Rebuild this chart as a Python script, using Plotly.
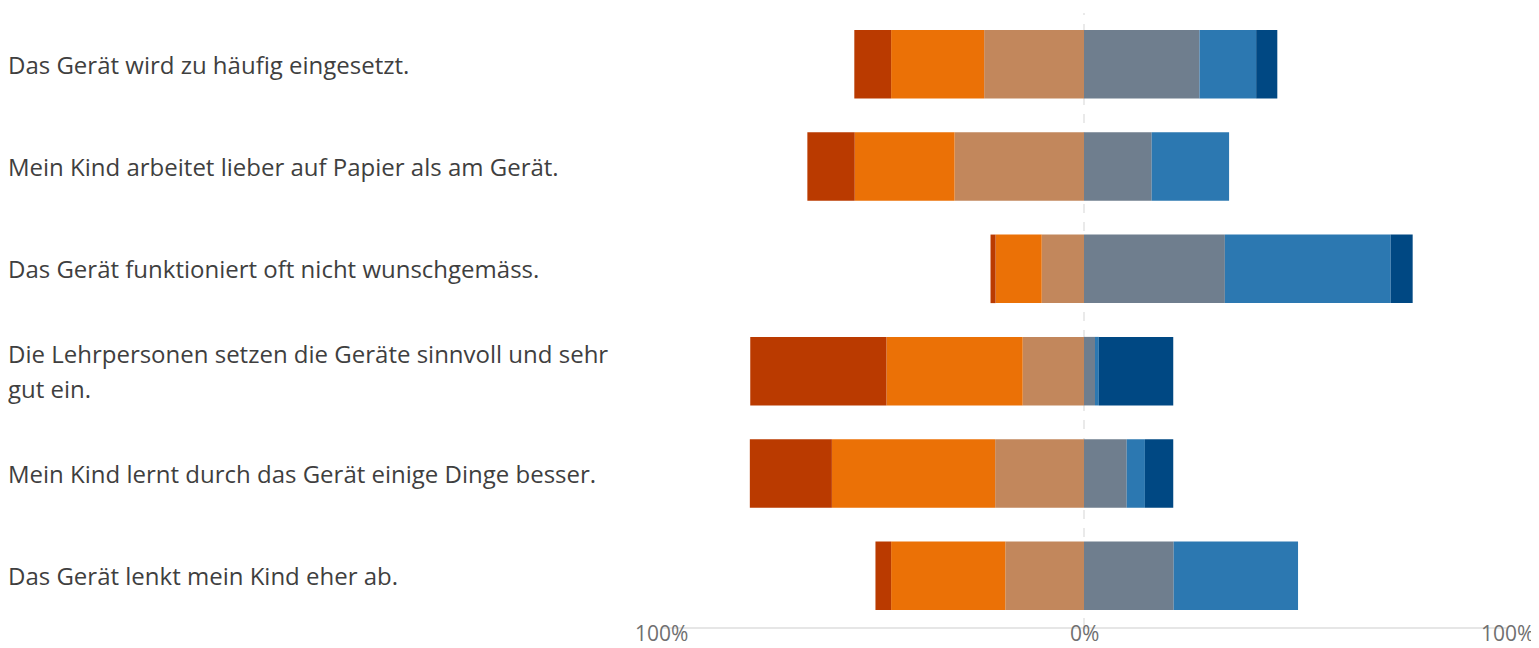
import plotly.graph_objects as go

labels = [
    "Das Gerät wird zu häufig eingesetzt.",
    "Mein Kind arbeitet lieber auf Papier als am Gerät.",
    "Das Gerät funktioniert oft nicht wunschgemäss.",
    "Die Lehrpersonen setzen die Geräte sinnvoll und sehr\ngut ein.",
    "Mein Kind lernt durch das Gerät einige Dinge besser.",
    "Das Gerät lenkt mein Kind eher ab.",
]

series_names = [
    "trifft überhaupt nicht zu",
    "trifft nicht zu",
    "trifft eher nicht zu",
    "trifft eher zu",
    "trifft zu",
    "trifft voll und ganz zu",
]

strongly_disagree = [8.7, 11.2, 1.2, 32.2, 19.4, 3.7]
disagree = [22.0, 23.6, 10.9, 32.2, 38.6, 27.0]
rather_disagree = [23.6, 30.6, 10.0, 14.5, 21.0, 18.6]
rather_agree = [27.3, 16.0, 33.3, 2.6, 10.1, 21.2]
agree = [13.4, 18.3, 39.2, 0.9, 4.3, 29.4]
strongly_agree = [5.0, 0.0, 5.2, 17.6, 6.7, 0.0]

tick_vals = [-100, 0, 100]
tick_text = ["100%", "0%", "100%"]

colors = ["#BA3A00", "#EB7106", "#C2875C", "#6F7E8E", "#2C78B1", "#004883"]

cats = [l.replace("\n", " ") for l in labels]

fig = go.Figure()

neg = [(2, rather_disagree), (1, disagree), (0, strongly_disagree)]
pos = [(3, rather_agree), (4, agree), (5, strongly_agree)]
for (ni, nv), (pi, pv) in zip(neg, pos):
    fig.add_trace(go.Bar(
        y=cats, x=[-v for v in nv], orientation="h", name=series_names[ni],
        marker=dict(color=colors[ni], line=dict(width=0)),
        customdata=nv, hovertemplate="%{y}<br>" + series_names[ni] + ": %{customdata}%<extra></extra>",
    ))
    fig.add_trace(go.Bar(
        y=cats, x=pv, orientation="h", name=series_names[pi],
        marker=dict(color=colors[pi], line=dict(width=0)),
        hovertemplate="%{y}<br>" + series_names[pi] + ": %{x}%<extra></extra>",
    ))

# left-aligned category labels
line_gap = 35
for cat, lab in zip(cats, labels):
    lines = lab.split("\n")
    n = len(lines)
    for i, ln in enumerate(lines):
        fig.add_annotation(
            x=-0.7742, xref="paper", y=cat, yref="y",
            text=ln, showarrow=False, xanchor="left", yanchor="middle",
            yshift=((n - 1) / 2 - i) * line_gap,
            font=dict(family="Open Sans, sans-serif", size=24, color="#3f3f3f"),
        )

fig.add_vline(x=0, line=dict(color="#e3e3e3", width=1.5, dash="dash"), layer="below")

fig.update_layout(
    width=1531, height=640,
    margin=dict(l=653, r=32, t=5, b=21, autoexpand=False),
    barmode="relative",
    bargap=0.33,
    showlegend=False,
    paper_bgcolor="white",
    plot_bgcolor="white",
    xaxis=dict(
        range=[-100, 100], tickvals=[-100, 100], showticklabels=False,
        showgrid=True, gridcolor="#e6e6e6", gridwidth=1.5, zeroline=False,
        showline=True, linecolor="#e6e6e6", linewidth=1.5, automargin=False,
        fixedrange=True,
    ),
    yaxis=dict(
        categoryorder="array", categoryarray=cats, autorange="reversed",
        showticklabels=False, showgrid=False, zeroline=False, fixedrange=True,
        automargin=False,
    ),
)

# x tick labels (placed on the x scale)
for tv, tt in zip(tick_vals, tick_text):
    fig.add_annotation(x=tv, xref="x", y=0, yref="paper", text=tt, showarrow=False,
                       yanchor="bottom", yshift=-21, borderpad=0,
                       font=dict(family="Open Sans, sans-serif", size=21, color="#707070"))

fig.write_html("out.html")
